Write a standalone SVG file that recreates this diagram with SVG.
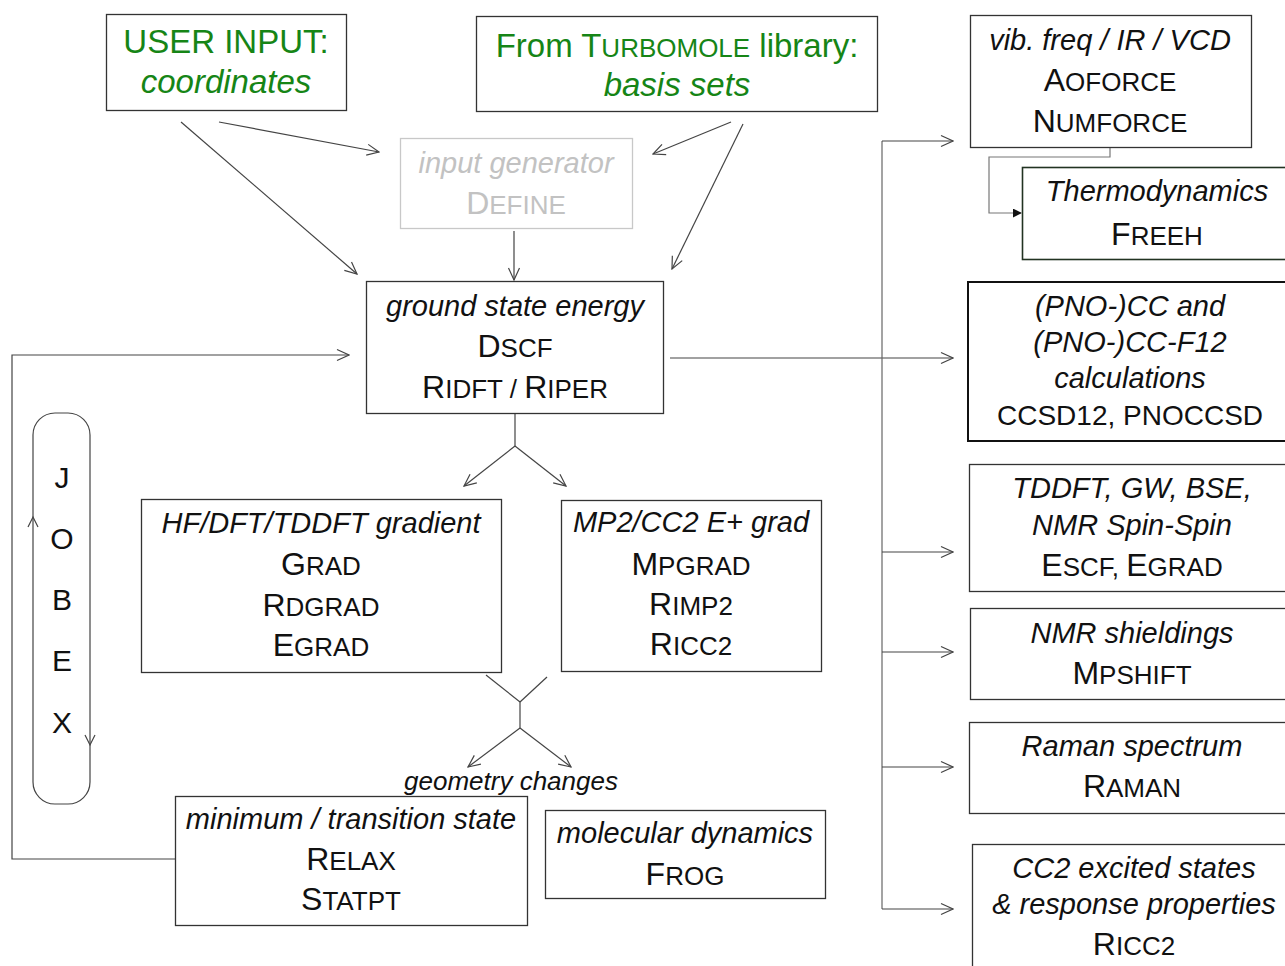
<svg xmlns="http://www.w3.org/2000/svg" width="1285" height="966" viewBox="0 0 1285 966">
<defs>
<style>
text{font-family:"Liberation Sans",Arial,sans-serif;text-anchor:middle;fill:#111}
.it{font-style:italic;font-size:29px}
.pn{font-size:32px}
.sc{font-size:26px}
.grn{fill:#168516;font-size:33px}
.gry{fill:#c2c2c2}
.box{fill:#fff;stroke:#333;stroke-width:1.3}
.conn line,.conn path,.conn polyline{stroke:#444;stroke-width:1.2;fill:none}
</style>
<marker id="ah" viewBox="0 0 14 14" refX="13" refY="7" markerWidth="14" markerHeight="14" markerUnits="userSpaceOnUse" orient="auto">
<path d="M1,1.5 L13,7 L1,12.5" fill="none" stroke="#444" stroke-width="1.2"/>
</marker>
<marker id="fh" viewBox="0 0 10 10" refX="9" refY="5" markerWidth="9" markerHeight="9" markerUnits="userSpaceOnUse" orient="auto">
<path d="M0,0 L10,5 L0,10 z" fill="#111"/>
</marker>
</defs>
<rect width="1285" height="966" fill="#fff"/>

<g id="connectors" class="conn">
<line x1="181" y1="122" x2="357" y2="274" marker-end="url(#ah)"/>
<line x1="219" y1="122" x2="379" y2="152" marker-end="url(#ah)"/>
<line x1="731" y1="122" x2="653" y2="154" marker-end="url(#ah)"/>
<line x1="743" y1="124" x2="672" y2="269" marker-end="url(#ah)"/>
<line x1="514" y1="231" x2="514" y2="280" marker-end="url(#ah)"/>
<line x1="515" y1="413" x2="515" y2="446"/>
<line x1="515" y1="446" x2="464" y2="486" marker-end="url(#ah)"/>
<line x1="515" y1="446" x2="566" y2="486" marker-end="url(#ah)"/>
<line x1="486" y1="675" x2="520" y2="702"/>
<line x1="547" y1="677" x2="520" y2="702"/>
<line x1="520" y1="702" x2="520" y2="728"/>
<line x1="520" y1="728" x2="468" y2="767" marker-end="url(#ah)"/>
<line x1="520" y1="728" x2="571" y2="767" marker-end="url(#ah)"/>
<polyline points="175,859 12,859 12,355 349,355" marker-end="url(#ah)"/>
<line x1="670" y1="358" x2="953" y2="358" marker-end="url(#ah)"/>
<line x1="882" y1="141" x2="882" y2="909" style="stroke:#666"/>
<line x1="882" y1="141" x2="953" y2="141" marker-end="url(#ah)"/>
<line x1="882" y1="552" x2="953" y2="552" marker-end="url(#ah)"/>
<line x1="882" y1="652" x2="953" y2="652" marker-end="url(#ah)"/>
<line x1="882" y1="767" x2="953" y2="767" marker-end="url(#ah)"/>
<line x1="882" y1="909" x2="953" y2="909" marker-end="url(#ah)"/>
<polyline points="1110,148 1110,157 989,157 989,213 1021,213" style="stroke:#777" marker-end="url(#fh)"/>
</g>

<g id="user-input">
<rect class="box" x="106.5" y="14.5" width="240" height="96"/>
<text class="grn" x="226" y="53">USER INPUT:</text>
<text class="grn" x="226" y="93" font-style="italic">coordinates</text>
</g>

<g id="basis-sets">
<rect class="box" x="476.5" y="16.5" width="401" height="95"/>
<text class="grn" x="677" y="57">From T<tspan font-size="26">URBOMOLE</tspan> library:</text>
<text class="grn" x="677" y="96" font-style="italic">basis sets</text>
</g>

<g id="define">
<rect x="400.5" y="138.5" width="232" height="90" fill="#fff" stroke="#c8c8c8" stroke-width="1.3"/>
<text class="it gry" x="516" y="173">input generator</text>
<text class="pn gry" x="516" y="214">D<tspan class="sc">EFINE</tspan></text>
</g>

<g id="ground-state">
<rect class="box" x="366.5" y="281.5" width="297" height="132"/>
<text class="it" x="515" y="316">ground state energy</text>
<text class="pn" x="515" y="357">D<tspan class="sc">SCF</tspan></text>
<text class="pn" x="515" y="398">R<tspan class="sc">IDFT / </tspan>R<tspan class="sc">IPER</tspan></text>
</g>

<g id="gradient">
<rect class="box" x="141.5" y="499.5" width="360" height="173"/>
<text class="it" x="321" y="533">HF/DFT/TDDFT gradient</text>
<text class="pn" x="321" y="575">G<tspan class="sc">RAD</tspan></text>
<text class="pn" x="321" y="616">R<tspan class="sc">DGRAD</tspan></text>
<text class="pn" x="321" y="656">E<tspan class="sc">GRAD</tspan></text>
</g>

<g id="mp2">
<rect class="box" x="561.5" y="500.5" width="260" height="171"/>
<text class="it" x="691" y="532" font-size="27">MP2/CC2 E+ grad</text>
<text class="pn" x="691" y="575">M<tspan class="sc">PGRAD</tspan></text>
<text class="pn" x="691" y="615">R<tspan class="sc">IMP2</tspan></text>
<text class="pn" x="691" y="655">R<tspan class="sc">ICC2</tspan></text>
</g>

<g id="jobex">
<rect x="33" y="413" width="57" height="391" rx="22" ry="22" fill="none" stroke="#444" stroke-width="1.2"/>
<polyline points="28,527 33,517 38,527" fill="none" stroke="#444" stroke-width="1.2"/>
<polyline points="85,735 90,745 95,735" fill="none" stroke="#444" stroke-width="1.2"/>
<text x="62" y="488" font-size="30">J</text>
<text x="62" y="549" font-size="30">O</text>
<text x="62" y="610" font-size="30">B</text>
<text x="62" y="671" font-size="30">E</text>
<text x="62" y="733" font-size="30">X</text>
</g>

<g id="geometry-label">
<text x="511" y="790" font-size="26" font-style="italic">geometry changes</text>
</g>

<g id="relax">
<rect class="box" x="175.5" y="796.5" width="352" height="129"/>
<text class="it" x="351" y="829" font-size="28">minimum / transition state</text>
<text class="pn" x="351" y="870">R<tspan class="sc">ELAX</tspan></text>
<text class="pn" x="351" y="910">S<tspan class="sc">TATPT</tspan></text>
</g>

<g id="frog">
<rect class="box" x="545.5" y="810.5" width="280" height="88"/>
<text class="it" x="685" y="843" font-size="28">molecular dynamics</text>
<text class="pn" x="685" y="885">F<tspan class="sc">ROG</tspan></text>
</g>

<g id="aoforce">
<rect class="box" x="970.5" y="15.5" width="281" height="132"/>
<text class="it" x="1110" y="50">vib. freq / IR / VCD</text>
<text class="pn" x="1110" y="91">A<tspan class="sc">OFORCE</tspan></text>
<text class="pn" x="1110" y="132">N<tspan class="sc">UMFORCE</tspan></text>
</g>

<g id="freeh">
<rect x="1022.5" y="167.5" width="270" height="92" fill="#fff" stroke="#223322" stroke-width="1.6"/>
<text class="it" x="1157" y="201">Thermodynamics</text>
<text class="pn" x="1157" y="245">F<tspan class="sc">REEH</tspan></text>
</g>

<g id="ccsd">
<rect x="968" y="282" width="330" height="159" fill="#fff" stroke="#111" stroke-width="2"/>
<text class="it" x="1130" y="316">(PNO-)CC and</text>
<text class="it" x="1130" y="352">(PNO-)CC-F12</text>
<text class="it" x="1130" y="388">calculations</text>
<text x="1130" y="425" font-size="28">CCSD12, PNOCCSD</text>
</g>

<g id="escf">
<rect class="box" x="969.5" y="464.5" width="330" height="127"/>
<text class="it" x="1132" y="498">TDDFT, GW, BSE,</text>
<text class="it" x="1132" y="535">NMR Spin-Spin</text>
<text class="pn" x="1132" y="576">E<tspan class="sc">SCF, </tspan>E<tspan class="sc">GRAD</tspan></text>
</g>

<g id="mpshift">
<rect class="box" x="970.5" y="608.5" width="330" height="91"/>
<text class="it" x="1132" y="643">NMR shieldings</text>
<text class="pn" x="1132" y="684">M<tspan class="sc">PSHIFT</tspan></text>
</g>

<g id="raman">
<rect class="box" x="969.5" y="722.5" width="330" height="91"/>
<text class="it" x="1132" y="756">Raman spectrum</text>
<text class="pn" x="1132" y="797">R<tspan class="sc">AMAN</tspan></text>
</g>

<g id="ricc2">
<rect class="box" x="972.5" y="844.5" width="330" height="130"/>
<text class="it" x="1134" y="878">CC2 excited states</text>
<text class="it" x="1134" y="914">&amp; response properties</text>
<text class="pn" x="1134" y="955">R<tspan class="sc">ICC2</tspan></text>
</g>
</svg>
